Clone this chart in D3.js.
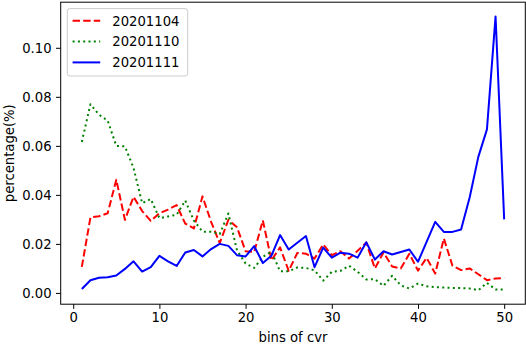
<!DOCTYPE html>
<html>
<head>
<meta charset="utf-8">
<script src="https://cdn.jsdelivr.net/npm/d3@7/dist/d3.min.js"></script>
<style>
  html, body { margin: 0; padding: 0; background: #fff; }
  svg { display: block; font-family: "DejaVu Sans", sans-serif; }
</style>
</head>
<body>
<svg id="chart" width="526" height="346"></svg>
<script>
const bins = [1,2,3,4,5,6,7,8,9,10,11,12,13,14,15,16,17,18,19,20,21,22,23,24,25,
  26,27,28,29,30,31,32,33,34,35,36,37,38,39,40,41,42,43,44,45,46,47,48,49,50];

const seriesNames = ["20201104", "20201110", "20201111"];

const s20201104 = [0.0106,0.0308,0.0313,0.0325,0.0462,0.0298,0.0392,0.0334,0.0294,0.0325,
  0.0340,0.0358,0.0283,0.0263,0.0394,0.0290,0.0203,0.0298,0.0268,0.0170,
  0.0167,0.0296,0.0133,0.0186,0.0090,0.0163,0.0160,0.0140,0.0198,0.0154,
  0.0170,0.0140,0.0172,0.0205,0.0100,0.0165,0.0108,0.0100,0.0160,0.0091,
  0.0143,0.0079,0.0222,0.0111,0.0093,0.0100,0.0076,0.0052,0.0059,0.0061];

const s20201110 = [0.0616,0.0770,0.0727,0.0703,0.0600,0.0598,0.0510,0.0366,0.0383,0.0305,
  0.0312,0.0319,0.0377,0.0295,0.0250,0.0250,0.0240,0.0324,0.0174,0.0120,
  0.0102,0.0147,0.0169,0.0088,0.0088,0.0104,0.0102,0.0092,0.0050,0.0086,
  0.0090,0.0111,0.0086,0.0055,0.0056,0.0029,0.0070,0.0031,0.0018,0.0038,
  0.0027,0.0024,0.0022,0.0020,0.0020,0.0018,0.0011,0.0041,0.0014,0.0014];

const s20201111 = [0.0016,0.0052,0.0062,0.0064,0.0071,0.0098,0.0129,0.0087,0.0105,0.0151,
  0.0129,0.0110,0.0165,0.0175,0.0149,0.0179,0.0200,0.0192,0.0154,0.0149,
  0.0191,0.0122,0.0152,0.0236,0.0177,0.0205,0.0232,0.0105,0.0185,0.0144,
  0.0164,0.0160,0.0144,0.0207,0.0136,0.0170,0.0157,0.0167,0.0177,0.0127,
  0.0208,0.0290,0.0249,0.0249,0.0259,0.0390,0.0555,0.0667,0.1128,0.0300];

const xTicks = [0, 10, 20, 30, 40, 50];
const yTicks = [0.00, 0.02, 0.04, 0.06, 0.08, 0.10];
const xLabel = "bins of cvr";
const yLabel = "percentage(%)";

const styles = [
  { color: "#ff0000", dash: "7.4,3.2" },
  { color: "#008000", dash: "2,3.3" },
  { color: "#0000ff", dash: null }
];
const seriesValues = [s20201104, s20201110, s20201111];

const FS = 13.2;
const L = 60.7, R = 525.3, T = 2.2, B = 304.2;

const svg = d3.select("#chart");

const x = d3.scaleLinear().domain([-1.45, 52.45]).range([L, R]);
const y = d3.scaleLinear().domain([-0.0046, 0.1186]).range([B, T]);

// lines
const line = d3.line().x((d, i) => x(bins[i])).y(d => y(d));
const plot = svg.append("g");
seriesValues.forEach((vals, k) => {
  plot.append("path")
    .datum(vals)
    .attr("d", line)
    .attr("fill", "none")
    .attr("stroke", styles[k].color)
    .attr("stroke-width", 2)
    .attr("stroke-linejoin", "round")
    .attr("stroke-dasharray", styles[k].dash);
});

// axes
const xAxis = d3.axisBottom(x).tickValues(xTicks).tickFormat(d3.format("d"))
  .tickSizeInner(4.7).tickSizeOuter(0).tickPadding(4.2);
const yAxis = d3.axisLeft(y).tickValues(yTicks).tickFormat(d3.format(".2f"))
  .tickSizeInner(4.7).tickSizeOuter(0).tickPadding(4.4);

const gx = svg.append("g").attr("transform", `translate(0,${B})`).call(xAxis);
const gy = svg.append("g").attr("transform", `translate(${L},0)`).call(yAxis);
[gx, gy].forEach(g => {
  g.select(".domain").remove();
  g.selectAll(".tick line").attr("stroke", "#000").attr("stroke-width", 1);
  g.selectAll(".tick text").attr("fill", "#000")
    .style("font-family", "DejaVu Sans").style("font-size", FS + "px");
});

// frame
svg.append("rect")
  .attr("x", L).attr("y", T).attr("width", R - L).attr("height", B - T)
  .attr("fill", "none").attr("stroke", "#000").attr("stroke-width", 1);

// axis labels
svg.append("text")
  .attr("x", (L + R) / 2).attr("y", 341.5)
  .attr("text-anchor", "middle")
  .style("font-size", FS + "px")
  .text(xLabel);

svg.append("text")
  .attr("transform", `translate(14,${(T + B) / 2}) rotate(-90)`)
  .attr("text-anchor", "middle")
  .style("font-size", FS + "px")
  .text(yLabel);

// legend
const lg = svg.append("g");
lg.append("rect")
  .attr("x", 67.3).attr("y", 8.6).attr("width", 120.4).attr("height", 67.4)
  .attr("rx", 2.6).attr("ry", 2.6)
  .attr("fill", "#fff").attr("fill-opacity", 0.8)
  .attr("stroke", "#cccccc").attr("stroke-width", 1);
const rowY = [20.8, 41.6, 62.4];
seriesNames.forEach((name, k) => {
  lg.append("line")
    .attr("x1", 72.6).attr("x2", 100.2)
    .attr("y1", rowY[k]).attr("y2", rowY[k])
    .attr("stroke", styles[k].color)
    .attr("stroke-width", 2)
    .attr("stroke-dasharray", styles[k].dash);
  lg.append("text")
    .attr("x", 112.3).attr("y", rowY[k] + 4.8)
    .style("font-size", FS + "px")
    .text(name);
});
</script>
</body>
</html>
